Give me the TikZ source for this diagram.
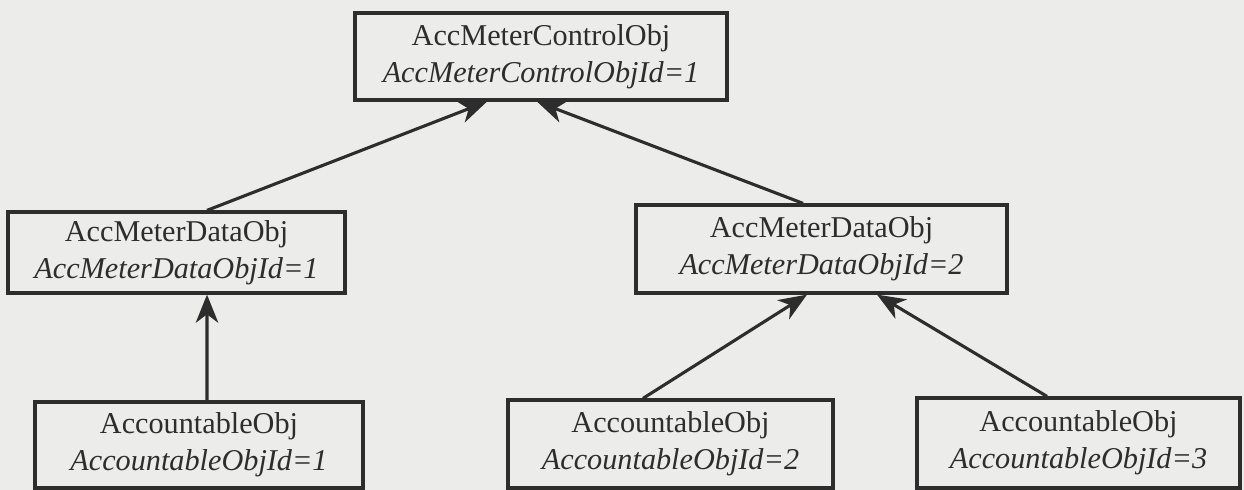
\documentclass[tikz,border=0pt]{standalone}
\usepackage{fontspec}
\setmainfont{Liberation Serif}
\usetikzlibrary{arrows.meta,calc}
\definecolor{paper}{RGB}{236,236,234}
\definecolor{ink}{RGB}{45,45,45}
\tikzset{
  objbox/.style={draw=ink, line width=2.3pt, align=center, inner sep=0pt,
    text=ink, font=\fontsize{21.5}{26.5}\selectfont},
  isa/.style={draw=ink, line width=2.2pt, -{Stealth[length=20pt,width=16pt,inset=6pt]}}
}
\begin{document}
\begin{tikzpicture}[x=0.025cm,y=-0.025cm]
    \useasboundingbox[fill=paper] (0,0) rectangle (1244,490);
    % objects
    \node[objbox,minimum width=9.3cm,minimum height=2.175cm] (ctrl) at (541,56.5)
        {AccMeterControlObj\\\textit{AccMeterControlObjId=1}};
    \node[objbox,minimum width=8.425cm,minimum height=2.025cm] (data1) at (176.5,252.5)
        {AccMeterDataObj\\\textit{AccMeterDataObjId=1}};
    \node[objbox,minimum width=9.275cm,minimum height=2.2cm] (data2) at (821.5,249)
        {AccMeterDataObj\\\textit{AccMeterDataObjId=2}};
    \node[objbox,minimum width=8.2cm,minimum height=2.15cm] (acc1) at (199,445)
        {AccountableObj\\\textit{AccountableObjId=1}};
    \node[objbox,minimum width=8.125cm,minimum height=2.2cm] (acc2) at (670.5,444)
        {AccountableObj\\\textit{AccountableObjId=2}};
    \node[objbox,minimum width=8.075cm,minimum height=2.25cm] (acc3) at (1078.5,443)
        {AccountableObj\\\textit{AccountableObjId=3}};
    % links
    \draw[isa] ($(data1.north)+(30.5,0)$) -- ($(ctrl.south)+(-54,0)$);
    \draw[isa] ($(data2.north)+(-18.5,0)$) -- ($(ctrl.south)+(-4,0)$);
    \draw[isa] ($(acc1.north)+(8,0)$) -- ($(data1.south)+(30.5,0)$);
    \draw[isa] ($(acc2.north)+(-27.5,0)$) -- ($(data2.south)+(-14.5,0)$);
    \draw[isa] ($(acc3.north)+(-31.5,0)$) -- ($(data2.south)+(55.5,0)$);
\end{tikzpicture}
\end{document}
